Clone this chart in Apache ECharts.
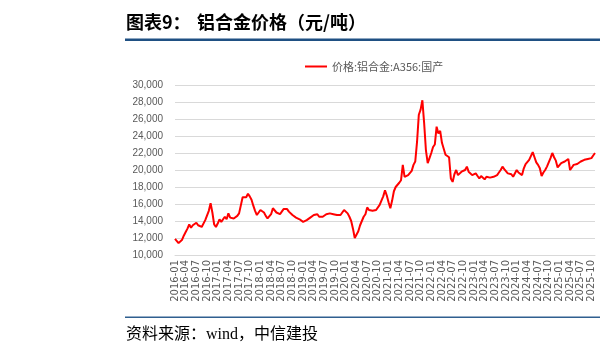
<!DOCTYPE html>
<html><head><meta charset="utf-8">
<script src="https://cdn.jsdelivr.net/npm/echarts@6/dist/echarts.min.js"></script>
<style>html,body{margin:0;padding:0;background:#fff}#c{width:600px;height:356px}</style>
</head><body><div id="c"></div>
<script>
const titleLead = '图表9：';
const titleMain = '铝合金价格（元/吨）';
const sourceText = '资料来源：wind，中信建投';
const seriesName = '价格:铝合金:A356:国产';
const startYear = 2016;
// semi-monthly readings (1st and 16th of each month), yuan/ton
const price2016 = [11900,11700,11400,11300,11800,12300,12700,13100,13600,13200,13500,13300,13800,13500,13600,13300,13400,14100,14000,15200,16100,15000,13600,13300];
const price2017 = [13700,14200,13900,14100,14500,14200,14900,14400,14600,14300,14100,14600,14900,15000,16800,17000,16800,17200,16900,16500,15800,15200,14700,14900];
const price2018 = [15300,15500,15000,14600,14300,14100,14800,15500,15300,15000,14900,14800,15100,15400,15300,15400,15100,14900,14700,14600,14400,14300,14200,14000];
const price2019 = [13900,13900,14100,14300,14400,14500,14700,14900,14800,14500,14600,14500,14600,14800,14700,14900,15000,14800,14700,14700,14800,14700,15000,15300];
const price2020 = [15200,14900,14500,14000,13100,12000,11900,12800,13500,14000,14500,14800,15600,15300,15400,15200,15400,15300,15500,15900,16400,16900,17600,17000];
const price2021 = [16200,15500,16400,17500,18000,17900,18500,18800,20600,19200,19000,19400,19600,19900,20600,21000,23300,26500,27100,28200,25500,22300,20800,21400];
const price2022 = [22000,22700,23000,25100,24300,24600,23200,22500,21800,22000,21500,19000,18600,19500,20000,19400,19600,19800,19700,20000,20400,19800,19800,19400];
const price2023 = [19200,19600,19300,19000,19300,19100,18900,19200,19000,19100,19300,19200,19200,19400,19700,20000,20400,20100,19900,19600,19800,19500,19200,19400];
const price2024 = [20000,19700,19500,19400,20200,20700,20900,21200,21000,22100,21500,20900,20600,20200,19300,19700,20000,20400,20900,21400,22000,21500,21100,20300];
const price2025 = [20400,20800,20700,21000,21200,21300,20000,20300,20600,20800,20700,20900,21000,20900,21200,21100,21300,21400,21400,21700,22000];
const yMin = 10000, yMax = 30000, yStep = 2000;

const prices = [].concat(price2016, price2017, price2018, price2019, price2020, price2021, price2022, price2023, price2024, price2025);
const pad = n => String(n).padStart(2, '0');
const categories = prices.map((v, i) => {
  const y = startYear + Math.floor(i / 24);
  const m = Math.floor((i % 24) / 2) + 1;
  const d = i % 2 ? 16 : 1;
  return y + '-' + pad(m) + '-' + pad(d);
});

const chart = echarts.init(document.getElementById('c'), null, {renderer: 'canvas'});
chart.setOption({
  animation: false,
  backgroundColor: '#fff',
  grid: {left: 175, right: 5, top: 85, bottom: 101, containLabel: false},
  legend: {
    data: [seriesName], left: 300, top: 56, icon: 'rect', itemWidth: 22, itemHeight: 2, itemGap: 5,
    textStyle: {color: '#595959', fontSize: 11, fontFamily: 'Noto Sans CJK SC'}
  },
  xAxis: {
    type: 'category', data: categories, boundaryGap: false,
    axisLine: {show: true, lineStyle: {color: '#d9d9d9', width: 1}},
    axisTick: {show: false},
    axisLabel: {
      rotate: 90, margin: 5, color: '#595959', fontSize: 10, fontFamily: 'DejaVu Sans',
      showMinLabel: true, showMaxLabel: true, hideOverlap: false,
      interval: (idx, val) => { const m = +val.slice(5, 7); return val.slice(8) === '01' && (m - 1) % 3 === 0; },
      formatter: val => val.slice(0, 7)
    },
    splitLine: {show: false}
  },
  yAxis: {
    type: 'value', min: yMin, max: yMax, interval: yStep,
    axisLine: {show: false}, axisTick: {show: false},
    axisLabel: {color: '#595959', fontSize: 10, fontFamily: 'Liberation Sans', margin: 12,
      formatter: v => v.toLocaleString('en-US')},
    splitLine: {lineStyle: {color: '#d9d9d9', width: 1}}
  },
  series: [{
    name: seriesName, type: 'line', data: prices, showSymbol: false, symbol: 'none',
    lineStyle: {color: '#ff0000', width: 2}, itemStyle: {color: '#ff0000'}
  }],
  graphic: [
    {type: 'text', left: 126, top: 13, style: {text: titleLead, font: 'bold 18px "Noto Sans CJK SC"', fill: '#000'}},
    {type: 'text', left: 197, top: 13, style: {text: titleMain, font: 'bold 18px "Noto Sans CJK SC"', fill: '#000'}},
    {type: 'rect', shape: {x: 125, y: 38.5, width: 475, height: 2.5}, style: {fill: '#1f5083'}},
    {type: 'rect', shape: {x: 125, y: 316.5, width: 475, height: 1.5}, style: {fill: '#2f5f8f'}},
    {type: 'text', left: 126, top: 327, style: {text: sourceText, font: '16px "Liberation Serif", "Noto Sans CJK SC"', fill: '#000'}}
  ]
});
</script></body></html>
